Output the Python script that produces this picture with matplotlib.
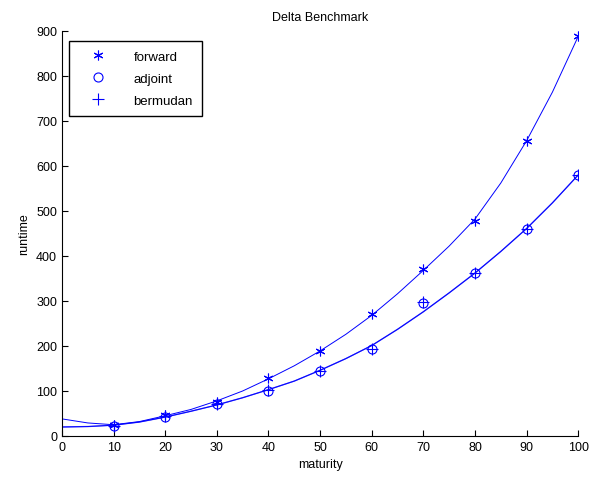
from matplotlib import pyplot as plt

maturity = [10, 20, 30, 40, 50, 60, 70, 80, 90, 100]
forward = [25, 47, 75, 129, 189, 271, 371, 478, 656, 888]
adjoint = [22, 43, 70, 101, 144, 193, 296, 362, 460, 580]
bermudan = [23, 44, 71, 102, 145, 194, 297, 363, 461, 581]

# fitted curves
fit_x = [0, 5, 10, 15, 20, 25, 30, 35, 40, 45, 50, 55, 60, 65, 70, 75, 80, 85, 90, 95, 100]
forward_fit = [38, 29, 25, 32, 45, 59, 78, 100, 127, 156, 189, 226, 268, 316, 368, 422, 482, 562, 656, 764, 888]
adjoint_fit = [20, 21, 24, 31, 42, 55, 69, 85, 103, 122, 146, 172, 201, 237, 276, 318, 362, 410, 461, 518, 580]

plt.rcParams['font.family'] = ['Liberation Sans', 'DejaVu Sans']
plt.rcParams['font.size'] = 9

fig = plt.figure(figsize=(5.9, 4.81), dpi=100)
ax = fig.add_axes([0.105, 0.0915, 0.875, 0.842])

blue = '#0000ff'
ax.plot(maturity, forward, marker=(6, 2, 0), linestyle='none', color=blue, markersize=7,
        markeredgewidth=0.8, label='forward')
ax.plot(maturity, adjoint, 'o', color=blue, markerfacecolor='none', markersize=6.5,
        markeredgewidth=0.8, label='adjoint')
ax.plot(maturity, bermudan, '+', color=blue, markersize=8, markeredgewidth=0.8, label='bermudan')
ax.plot(fit_x, forward_fit, color=blue, linewidth=0.7)
ax.plot(fit_x, adjoint_fit, color=blue, linewidth=0.7)
ax.plot(fit_x, adjoint_fit, color=blue, linewidth=1.0, alpha=0.6)

ax.set_xlim(0, 100)
ax.set_ylim(0, 900)
ax.set_xticks(range(0, 101, 10))
ax.set_yticks(range(0, 901, 100))
ax.tick_params(direction='in', length=4, width=0.8)
ax.spines['top'].set_visible(False)
ax.spines['right'].set_visible(False)
ax.set_title('Delta Benchmark', fontsize=9, pad=8)
ax.set_xlabel('maturity')
ax.set_ylabel('runtime')
ax.legend(loc='upper left', bbox_to_anchor=(0.0136, 0.975), borderaxespad=0, fancybox=False,
          edgecolor='black', framealpha=1, handlelength=3.0, handletextpad=1.2,
          borderpad=0.7, labelspacing=0.75, fontsize=9.5)
fig.savefig('out.png')
